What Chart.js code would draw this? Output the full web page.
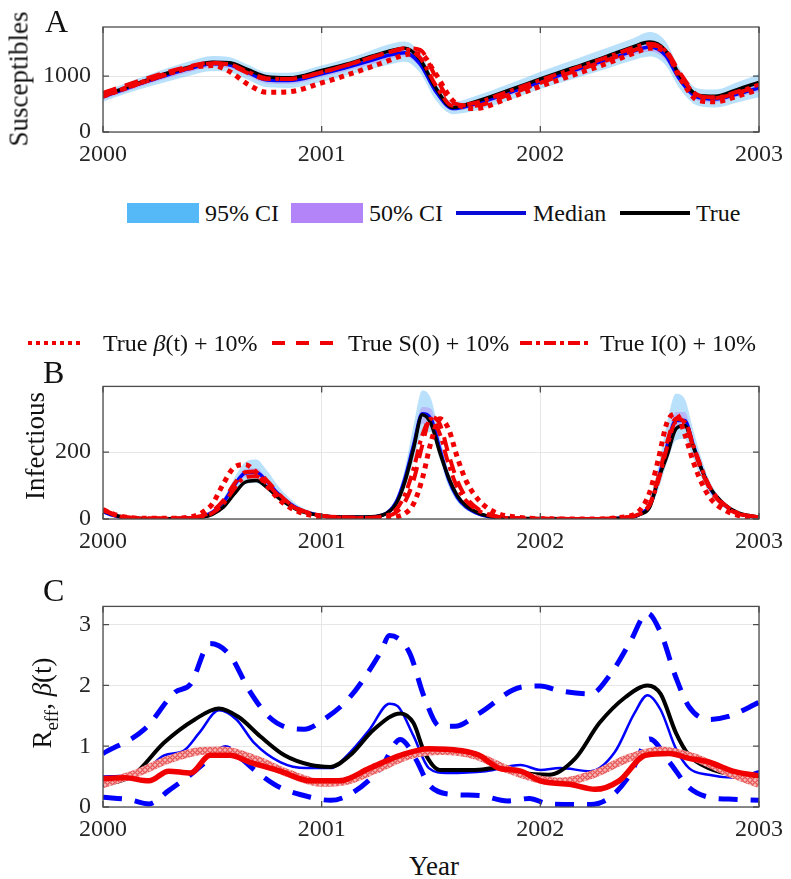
<!DOCTYPE html>
<html>
<head>
<meta charset="utf-8">
<script src="https://cdn.jsdelivr.net/npm/chart.js@4.4.0/dist/chart.umd.min.js"></script>
<style>
  body { margin: 0; background: #fff; font-family: 'Liberation Serif', 'Times New Roman', serif; color: #111; }
  #page { position: relative; width: 791px; height: 879px; overflow: hidden; }
  canvas { position: absolute; left: 0; }
  .lbl { position: absolute; white-space: nowrap; line-height: 1; }
  .panel { font-size: 32px; }
  .ytitle { font-size: 27px; transform: translate(-50%, -50%) rotate(-90deg); }
  .leg { font-size: 24px; }
  .swatch { position: absolute; height: 20px; }
</style>
</head>
<body>
<div id="page">
  <canvas id="chartA" width="791" height="180" style="top:0"></canvas>
  <canvas id="chartB" width="791" height="200" style="top:360px"></canvas>
  <canvas id="chartC" width="791" height="270" style="top:580px"></canvas>

  <div class="lbl panel" style="left:45px; top:5px">A</div>
  <div class="lbl panel" style="left:43px; top:356px">B</div>
  <div class="lbl panel" style="left:43px; top:574px">C</div>

  <div class="lbl ytitle" style="left:19px; top:79px">Susceptibles</div>
  <div class="lbl ytitle" style="left:35px; top:446px">Infectious</div>
  <div class="lbl ytitle" style="left:45px; top:703px">R<sub style="font-size:19px">eff</sub>, <i>&beta;</i>(t)</div>
  <div class="lbl" style="left:434px; top:866px; font-size:27px; transform:translate(-50%,-50%)">Year</div>

  <!-- legend 1 -->
  <div class="swatch" style="left:127px; top:203px; width:72px; background:#55b8f7"></div>
  <div class="lbl leg" style="left:205px; top:201px">95% CI</div>
  <div class="swatch" style="left:291px; top:203px; width:72px; background:#b384f7"></div>
  <div class="lbl leg" style="left:369px; top:201px">50% CI</div>
  <svg class="lbl" style="left:456px; top:208px" width="70" height="10"><line x1="0" y1="5" x2="70" y2="5" stroke="#0a0ad8" stroke-width="4"/></svg>
  <div class="lbl leg" style="left:533px; top:201px">Median</div>
  <svg class="lbl" style="left:620px; top:208px" width="70" height="10"><line x1="0" y1="5" x2="70" y2="5" stroke="#000" stroke-width="4"/></svg>
  <div class="lbl leg" style="left:696px; top:201px">True</div>

  <!-- legend 2 -->
  <svg class="lbl" style="left:28px; top:338px" width="56" height="10"><line x1="0" y1="5" x2="56" y2="5" stroke="#f00000" stroke-width="4" stroke-dasharray="4 4"/></svg>
  <div class="lbl leg" style="left:103px; top:331px">True <i>&beta;</i>(t) + 10%</div>
  <svg class="lbl" style="left:272px; top:338px" width="62" height="10"><line x1="0" y1="5" x2="62" y2="5" stroke="#f00000" stroke-width="4" stroke-dasharray="13 11"/></svg>
  <div class="lbl leg" style="left:348px; top:331px">True S(0) + 10%</div>
  <svg class="lbl" style="left:520px; top:338px" width="68" height="10"><line x1="0" y1="5" x2="68" y2="5" stroke="#f00000" stroke-width="4" stroke-dasharray="12 4 4 4"/></svg>
  <div class="lbl leg" style="left:600px; top:331px">True I(0) + 10%</div>
</div>

<script>
// ---- Panel A: susceptibles ----
const tA = [2000.00, 2000.10, 2000.20, 2000.30, 2000.40, 2000.50, 2000.58, 2000.66, 2000.75, 2000.85,
            2001.00, 2001.10, 2001.20, 2001.30, 2001.38, 2001.45, 2001.52, 2001.60, 2001.70, 2001.85,
            2002.00, 2002.15, 2002.30, 2002.42, 2002.50, 2002.57, 2002.64, 2002.72, 2002.80, 2002.90, 2003.00];
const trueS = [640, 790, 930, 1060, 1170, 1250, 1240, 1120, 990, 970, 1100, 1200, 1320, 1440, 1500, 1300, 800, 440, 540, 740, 950, 1150, 1350, 1520, 1610, 1470, 1000, 660, 640, 760, 890];
const medS  = [630, 770, 905, 1030, 1140, 1220, 1200, 1070, 930, 920, 1040, 1140, 1250, 1370, 1420, 1220, 740, 420, 500, 690, 900, 1100, 1290, 1440, 1520, 1380, 930, 620, 590, 680, 790];
const hi95S = [720, 870, 1010, 1150, 1270, 1360, 1340, 1210, 1070, 1060, 1190, 1300, 1420, 1560, 1620, 1420, 900, 540, 640, 850, 1080, 1290, 1500, 1670, 1790, 1640, 1120, 780, 760, 890, 1040];
const lo95S = [540, 680, 800, 910, 1010, 1090, 1070, 940, 800, 790, 900, 1000, 1100, 1200, 1260, 1060, 580, 320, 380, 560, 770, 950, 1130, 1280, 1350, 1210, 760, 470, 440, 530, 620];
const hi50S = [690, 830, 965, 1090, 1200, 1285, 1265, 1130, 990, 980, 1105, 1210, 1320, 1445, 1500, 1300, 800, 470, 555, 750, 960, 1170, 1365, 1520, 1610, 1470, 1000, 680, 650, 750, 860];
const lo50S = [580, 715, 850, 970, 1080, 1160, 1140, 1010, 870, 860, 980, 1080, 1180, 1300, 1350, 1150, 680, 380, 450, 640, 845, 1040, 1225, 1370, 1440, 1300, 860, 560, 530, 620, 720];
const betaS = [640, 780, 920, 1050, 1150, 1190, 1080, 860, 710, 720, 880, 1000, 1130, 1270, 1380, 1400, 1050, 560, 420, 600, 820, 1020, 1220, 1400, 1500, 1450, 960, 570, 540, 640, 760];
const s0S   = [700, 830, 960, 1080, 1180, 1240, 1200, 1060, 950, 950, 1070, 1180, 1300, 1420, 1500, 1470, 1000, 520, 470, 660, 880, 1080, 1280, 1450, 1550, 1480, 1050, 660, 610, 700, 820];
const i0S   = [640, 780, 910, 1040, 1150, 1230, 1210, 1080, 960, 950, 1070, 1180, 1300, 1420, 1480, 1330, 850, 470, 520, 720, 930, 1130, 1330, 1500, 1580, 1460, 1010, 660, 620, 720, 850];

// ---- Panel B: infectious ----
const tB = [2000.00, 2000.05, 2000.10, 2000.20, 2000.30, 2000.40, 2000.45, 2000.50, 2000.55, 2000.60,
            2000.65, 2000.70, 2000.75, 2000.80, 2000.85, 2000.90, 2001.00, 2001.10, 2001.20, 2001.28,
            2001.34, 2001.38, 2001.42, 2001.46, 2001.50, 2001.54, 2001.58, 2001.62, 2001.66, 2001.72,
            2001.80, 2001.90, 2002.00, 2002.20, 2002.40, 2002.46, 2002.50, 2002.54, 2002.58, 2002.62,
            2002.66, 2002.70, 2002.74, 2002.78, 2002.84, 2002.90, 2003.00];
const trueI = [25, 12, 5, 1, 1, 2, 5, 14, 35, 75, 110, 115, 95, 65, 42, 24, 10, 6, 6, 12, 45, 110, 210, 312, 285, 200, 125, 70, 40, 17, 5, 2, 1, 0, 4, 15, 35, 120, 190, 270, 280, 215, 145, 90, 45, 20, 5];
const medI  = [22, 10, 4, 1, 1, 3, 7, 20, 50, 100, 138, 140, 112, 76, 48, 28, 10, 5, 5, 12, 50, 120, 220, 315, 300, 210, 120, 65, 36, 15, 4, 1, 0, 0, 4, 16, 40, 120, 220, 295, 295, 220, 145, 88, 43, 18, 4];
const hi95I = [30, 16, 7, 2, 2, 5, 10, 26, 62, 122, 170, 178, 145, 100, 64, 38, 14, 7, 7, 16, 62, 150, 280, 385, 360, 250, 145, 82, 46, 20, 6, 2, 1, 1, 6, 22, 55, 160, 290, 375, 360, 265, 175, 106, 52, 23, 6];
const lo95I = [16, 6, 2, 0, 0, 1, 4, 12, 35, 75, 105, 108, 88, 58, 36, 20, 6, 3, 3, 8, 36, 92, 175, 255, 260, 180, 98, 52, 28, 10, 2, 0, 0, 0, 2, 10, 28, 88, 170, 235, 240, 180, 118, 70, 34, 13, 2];
const hi50I = [24, 11, 5, 1, 1, 3, 8, 22, 55, 108, 150, 152, 122, 83, 52, 31, 11, 6, 6, 13, 54, 130, 240, 335, 330, 228, 130, 71, 39, 16, 4, 1, 0, 0, 4, 18, 45, 132, 245, 320, 320, 238, 157, 95, 46, 19, 4];
const lo50I = [20, 9, 3, 1, 1, 2, 6, 18, 45, 92, 126, 128, 102, 69, 44, 25, 9, 4, 4, 11, 46, 110, 200, 285, 280, 192, 110, 59, 33, 14, 4, 1, 0, 0, 3, 14, 36, 108, 200, 270, 272, 202, 133, 81, 40, 17, 3];
const betaI = [28, 14, 6, 2, 2, 6, 18, 45, 105, 155, 163, 140, 100, 62, 36, 20, 6, 2, 1, 2, 6, 16, 45, 120, 230, 300, 270, 185, 115, 55, 18, 5, 1, 0, 8, 30, 80, 180, 290, 315, 255, 170, 105, 60, 28, 12, 3];
const s0I   = [28, 14, 6, 2, 2, 4, 9, 24, 55, 105, 140, 142, 115, 78, 48, 28, 10, 4, 3, 6, 20, 50, 115, 220, 305, 285, 195, 115, 65, 28, 8, 2, 1, 0, 5, 18, 45, 125, 230, 300, 290, 215, 140, 85, 40, 17, 4];
const i0I   = [28, 13, 5, 1, 1, 3, 7, 18, 45, 90, 125, 128, 105, 72, 45, 26, 10, 5, 4, 8, 28, 72, 150, 250, 300, 255, 165, 95, 55, 24, 7, 2, 1, 0, 5, 17, 42, 115, 215, 290, 290, 220, 148, 90, 44, 19, 5];

// ---- Panel C: R_eff and beta(t) ----
const tUpR = [2000.00, 2000.19, 2000.33, 2000.40, 2000.49, 2000.58, 2000.67, 2000.76, 2000.85, 2000.92, 2001.01, 2001.13, 2001.27, 2001.31, 2001.40, 2001.47, 2001.54, 2001.61, 2001.72, 2001.91, 2002.00, 2002.09, 2002.23, 2002.32, 2002.41, 2002.49, 2002.55, 2002.62, 2002.68, 2002.77, 2002.86, 2003.00];
const upR  = [0.88, 1.28, 1.89, 2.02, 2.69, 2.50, 1.91, 1.48, 1.30, 1.28, 1.44, 1.81, 2.55, 2.82, 2.55, 1.80, 1.33, 1.33, 1.54, 1.97, 1.99, 1.91, 1.86, 2.18, 2.71, 3.19, 2.87, 2.13, 1.65, 1.44, 1.49, 1.72];
const tLoR = [2000.00, 2000.12, 2000.21, 2000.30, 2000.40, 2000.49, 2000.56, 2000.63, 2000.72, 2000.81, 2000.95, 2001.04, 2001.13, 2001.27, 2001.36, 2001.43, 2001.49, 2001.59, 2001.72, 2001.85, 2001.95, 2002.04, 2002.23, 2002.32, 2002.41, 2002.50, 2002.59, 2002.68, 2002.77, 2002.86, 2003.00];
const loR  = [0.16, 0.12, 0.05, 0.27, 0.53, 0.80, 0.98, 0.80, 0.53, 0.32, 0.16, 0.11, 0.21, 0.64, 1.11, 0.79, 0.37, 0.21, 0.19, 0.10, 0.14, 0.05, 0.04, 0.16, 0.53, 1.12, 0.74, 0.32, 0.16, 0.13, 0.11];
const tTrueR = [2000.00, 2000.14, 2000.28, 2000.42, 2000.53, 2000.62, 2000.72, 2000.83, 2000.95, 2001.04, 2001.13, 2001.24, 2001.36, 2001.42, 2001.47, 2001.54, 2001.70, 2001.80, 2001.91, 2002.04, 2002.16, 2002.27, 2002.39, 2002.49, 2002.55, 2002.62, 2002.68, 2002.77, 2002.89, 2003.00];
const trueR  = [0.35, 0.53, 1.06, 1.44, 1.62, 1.48, 1.16, 0.85, 0.69, 0.66, 0.85, 1.28, 1.54, 1.38, 0.90, 0.61, 0.61, 0.64, 0.56, 0.53, 0.80, 1.38, 1.81, 2.00, 1.86, 1.22, 0.85, 0.64, 0.53, 0.51];
const tMedR = [2000.00, 2000.10, 2000.19, 2000.28, 2000.37, 2000.44, 2000.53, 2000.61, 2000.69, 2000.81, 2000.93, 2001.04, 2001.13, 2001.22, 2001.31, 2001.35, 2001.42, 2001.49, 2001.57, 2001.75, 2001.91, 2002.00, 2002.09, 2002.23, 2002.34, 2002.43, 2002.49, 2002.55, 2002.62, 2002.68, 2002.77, 2002.89, 2003.00];
const medR  = [0.50, 0.52, 0.60, 0.85, 0.93, 1.22, 1.59, 1.44, 1.06, 0.74, 0.64, 0.64, 0.90, 1.28, 1.70, 1.65, 1.17, 0.64, 0.56, 0.59, 0.69, 0.61, 0.64, 0.59, 0.90, 1.54, 1.84, 1.60, 0.96, 0.64, 0.53, 0.48, 0.59];
const tBetaR = [2000.00, 2000.10, 2000.21, 2000.30, 2000.40, 2000.49, 2000.58, 2000.67, 2000.81, 2000.95, 2001.08, 2001.22, 2001.36, 2001.49, 2001.63, 2001.72, 2001.81, 2001.91, 2002.00, 2002.14, 2002.25, 2002.36, 2002.48, 2002.59, 2002.68, 2002.77, 2002.88, 2003.00];
const betaR  = [0.47, 0.48, 0.43, 0.59, 0.56, 0.85, 0.85, 0.74, 0.59, 0.43, 0.43, 0.64, 0.85, 0.96, 0.93, 0.85, 0.64, 0.59, 0.43, 0.37, 0.29, 0.43, 0.85, 0.88, 0.80, 0.74, 0.59, 0.51];
const tEstR = [2000.00, 2000.15, 2000.30, 2000.45, 2000.55, 2000.70, 2000.85, 2001.00, 2001.10, 2001.25, 2001.40, 2001.55, 2001.70, 2001.85, 2002.00, 2002.10, 2002.25, 2002.40, 2002.55, 2002.70, 2002.85, 2003.00];
const estR  = [0.38, 0.55, 0.78, 0.92, 0.93, 0.78, 0.55, 0.40, 0.42, 0.62, 0.85, 0.92, 0.85, 0.62, 0.45, 0.42, 0.55, 0.80, 0.93, 0.82, 0.58, 0.38];

// tick labels
const yearTicks = [2000, 2001, 2002, 2003];
const ticksS = [0, 1000];
const ticksI = [0, 200];
const ticksR = [0, 1, 2, 3];

const FONT = "'Liberation Serif', 'Times New Roman', serif";
const RED = '#f00000';
const BLUE = '#0000ff';

function pts(t, v) {
  return t.map((x, i) => ({ x: x, y: v[i] }));
}

// frame box with inward ticks, like the original axes
const framePlugin = {
  id: 'frame',
  afterDraw(chart) {
    const { ctx, chartArea: a, scales } = chart;
    ctx.save();
    ctx.strokeStyle = '#4d4d4d';
    ctx.lineWidth = 1.3;
    ctx.strokeRect(a.left, a.top, a.width, a.height);
    ctx.beginPath();
    scales.x.ticks.forEach(t => {
      const px = scales.x.getPixelForValue(t.value);
      ctx.moveTo(px, a.bottom); ctx.lineTo(px, a.bottom - 6);
      ctx.moveTo(px, a.top); ctx.lineTo(px, a.top + 6);
    });
    scales.y.ticks.forEach(t => {
      const py = scales.y.getPixelForValue(t.value);
      ctx.moveTo(a.left, py); ctx.lineTo(a.left + 6, py);
      ctx.moveTo(a.right, py); ctx.lineTo(a.right - 6, py);
    });
    ctx.stroke();
    ctx.restore();
  }
};

function baseOptions(yMax, yTicks, topPad, xHeight) {
  return {
    responsive: false,
    animation: false,
    layout: { padding: { left: 0, right: 26, top: topPad, bottom: 0 } },
    elements: {
      line: { tension: 0.4, cubicInterpolationMode: 'monotone', borderCapStyle: 'butt' },
      point: { radius: 0 }
    },
    plugins: { legend: { display: false }, tooltip: { enabled: false } },
    scales: {
      x: {
        type: 'linear', min: 2000, max: 2003,
        afterBuildTicks: s => { s.ticks = yearTicks.map(v => ({ value: v })); },
        afterFit: s => { s.height = xHeight; },
        ticks: { callback: v => String(v), font: { family: FONT, size: 24 }, color: '#262626', padding: 8, maxRotation: 0 },
        grid: { color: '#e6e6e6', drawTicks: false },
        border: { display: false }
      },
      y: {
        min: 0, max: yMax,
        afterBuildTicks: s => { s.ticks = yTicks.map(v => ({ value: v })); },
        afterFit: s => { s.width = 103; },
        ticks: { callback: v => String(v), font: { family: FONT, size: 24 }, color: '#262626', padding: 12 },
        grid: { color: '#e6e6e6', drawTicks: false },
        border: { display: false }
      }
    }
  };
}

function band(t, lo, hi, color, ord) {
  return [
    { data: pts(t, lo), borderWidth: 0, borderColor: 'rgba(0,0,0,0)', fill: false, order: ord },
    { data: pts(t, hi), borderWidth: 0, borderColor: 'rgba(0,0,0,0)', backgroundColor: color, order: ord }
  ];
}

function line(t, v, color, width, dash, ord) {
  return { data: pts(t, v), borderColor: color, borderWidth: width, borderDash: dash || [], fill: false, order: ord };
}

function drawCharts() {
  // Panel A
  const dsA = [].concat(
    band(tA, lo95S, hi95S, 'rgba(90,184,246,0.42)', 8),
    band(tA, lo50S, hi50S, 'rgba(176,131,247,0.45)', 7),
    [line(tA, medS, BLUE, 3.5, null, 5),
     line(tA, trueS, '#000', 3.5, null, 4),
     line(tA, betaS, RED, 5, [5, 5], 1),
     line(tA, s0S, RED, 4, [14, 9], 2),
     line(tA, i0S, RED, 4, [13, 5, 4, 5], 3)]
  );
  dsA[1].fill = { target: 0 };
  dsA[3].fill = { target: 2 };
  new Chart(document.getElementById('chartA'), {
    type: 'line', data: { datasets: dsA }, options: baseOptions(1880, ticksS, 27, 48), plugins: [framePlugin]
  });

  // Panel B
  const dsB = [].concat(
    band(tB, lo95I, hi95I, 'rgba(90,184,246,0.42)', 8),
    band(tB, lo50I, hi50I, 'rgba(176,131,247,0.45)', 7),
    [line(tB, medI, BLUE, 3.5, null, 5),
     line(tB, trueI, '#000', 3.5, null, 4),
     line(tB, betaI, RED, 5, [5, 5], 1),
     line(tB, s0I, RED, 4, [14, 9], 2),
     line(tB, i0I, RED, 4, [13, 5, 4, 5], 3)]
  );
  dsB[1].fill = { target: 0 };
  dsB[3].fill = { target: 2 };
  new Chart(document.getElementById('chartB'), {
    type: 'line', data: { datasets: dsB }, options: baseOptions(397, ticksI, 14, 41), plugins: [framePlugin]
  });

  // Panel C: the beta estimate is drawn with a ring texture, like the open-circle markers
  const canvasC = document.getElementById('chartC');
  const patCanvas = document.createElement('canvas');
  patCanvas.width = 5; patCanvas.height = 5;
  const pg = patCanvas.getContext('2d');
  pg.fillStyle = '#f6b4b4';
  pg.fillRect(0, 0, 5, 5);
  pg.strokeStyle = '#e02c2c';
  pg.lineWidth = 1;
  pg.beginPath(); pg.arc(2.5, 2.5, 1.8, 0, Math.PI * 2); pg.stroke();
  const circlePattern = canvasC.getContext('2d').createPattern(patCanvas, 'repeat');

  const dsC = [
    line(tUpR, upR, BLUE, 5, [19, 13], 5),
    line(tLoR, loR, BLUE, 5, [19, 13], 5),
    line(tMedR, medR, BLUE, 2.5, null, 4),
    line(tTrueR, trueR, '#000', 4, null, 3),
    line(tEstR, estR, circlePattern, 8, null, 2),
    line(tBetaR, betaR, RED, 5.5, null, 1)
  ];
  new Chart(canvasC, {
    type: 'line', data: { datasets: dsC }, options: baseOptions(3.3, ticksR, 20, 43), plugins: [framePlugin]
  });
}

// canvas text needs the serif face loaded before drawing
Promise.all([
  document.fonts.load('24px "Liberation Serif"'),
  document.fonts.load('italic 24px "Liberation Serif"')
]).then(drawCharts, drawCharts);
</script>
</body>
</html>
